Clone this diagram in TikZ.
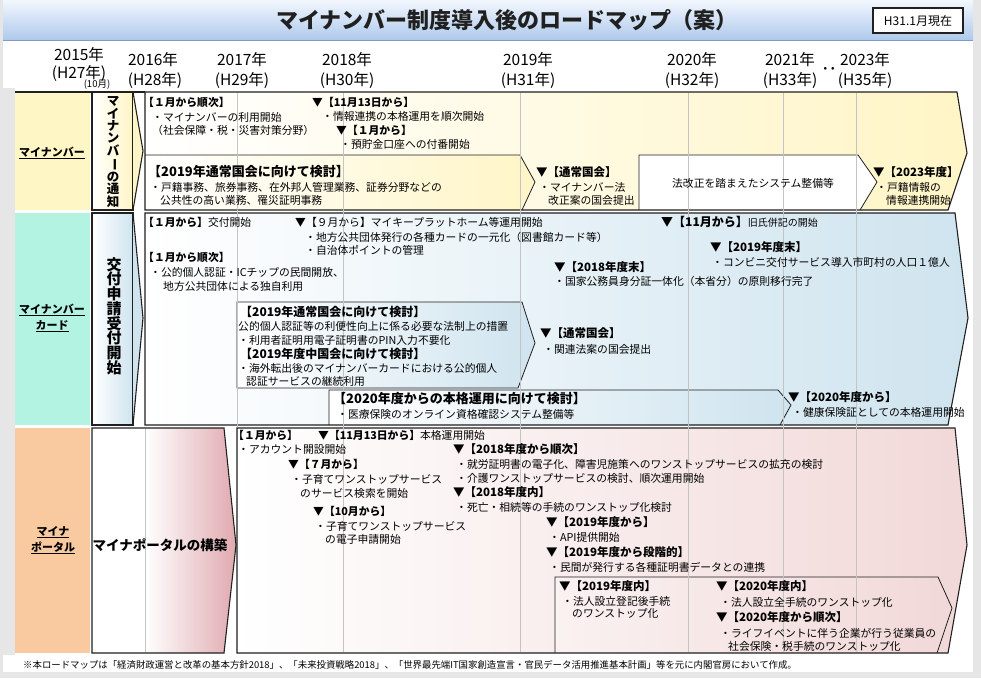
\documentclass[tikz,border=0pt]{standalone}
\usepackage{fontspec}
\setmainfont{Noto Sans CJK JP}
\definecolor{bggray}{HTML}{E6E6E6}
\definecolor{tbA}{HTML}{F2F7FD}
\definecolor{tbB}{HTML}{AFC9EC}
\definecolor{tbL}{HTML}{7F9CC4}
\definecolor{lyel}{HTML}{FEF6C4}
\definecolor{lmint}{HTML}{B3F3E1}
\definecolor{lpeach}{HTML}{F9CA9F}
\definecolor{ayel}{HTML}{FFF5C6}
\definecolor{ablue}{HTML}{CFE4EF}
\definecolor{apink}{HTML}{F2D8D8}
\definecolor{cpink}{HTML}{E0AAB0}
\definecolor{gridc}{HTML}{C4C4C4}
\definecolor{ink}{HTML}{202020}
\tikzset{
  edge/.style={draw=ink, line width=1.1pt, line join=miter},
  thinedge/.style={draw=ink, line width=0.8pt},
  gridline/.style={draw=gridc, line width=0.6pt},
  tx/.style={anchor=west, inner sep=0pt, text height=9.5pt, text depth=1.3pt, font=\fontsize{10.8}{13}\selectfont},
  hs/.style={tx, font=\bfseries\fontsize{10.8}{13}\selectfont},
  hm/.style={anchor=west, inner sep=0pt, text height=10.1pt, text depth=1.4pt, font=\bfseries\fontsize{11.5}{14}\selectfont},
  hmb/.style={anchor=west, inner sep=0pt, text height=10.6pt, text depth=1.4pt, font=\bfseries\fontsize{12}{14}\selectfont},
  hl/.style={anchor=west, inner sep=0pt, text height=11.4pt, text depth=1.6pt, font=\bfseries\fontsize{13}{15}\selectfont},
  yr/.style={anchor=center, inner sep=0pt, font=\fontsize{15.5}{17}\selectfont},
  lab/.style={anchor=center, inner sep=0pt, align=center, font=\bfseries\fontsize{11}{16}\selectfont},
  fn/.style={anchor=west, inner sep=0pt, font=\fontsize{9.4}{11}\selectfont},
}
\begin{document}
\begin{tikzpicture}[x=1pt,y=-1pt]
\useasboundingbox (0,0) rectangle (981,678);
% background
\fill[bggray] (0,0) rectangle (981,678);
\shade[top color=tbA, bottom color=tbB] (3,0) rectangle (973,40);
\draw[tbL, line width=1pt] (3,40) -- (973,40);
\fill[white] (3,41) rectangle (973,672);
\fill[bggray] (3,88) rectangle (15,655);
% left labels
\fill[lyel] (15,92) rectangle (90,210);
\fill[lmint] (15,213) rectangle (90,425);
\fill[lpeach] (15,428) rectangle (90,653);
\draw[edge] (15,92) -- (145,92);
% ===== row 1 =====
\shade[left color=white, right color=ayel] (92,92) rectangle (133,210);
\draw[edge] (92,92) rectangle (133,210);
\fill[ayel] (133,92) -- (143,151) -- (133,210) -- cycle;
\draw[edge] (133,92) -- (143,151) -- (133,210);
\shade[left color=white, right color=ayel] (145,92) -- (957,92) -- (967,153) -- (948,210) -- (145,210) -- cycle;
\shade[left color=white, right color=ayel] (145,155) -- (520,155) -- (535,182) -- (522,210) -- (145,210) -- cycle;
\draw[thinedge] (145,155) -- (520,155) -- (535,182) -- (522,210);
\fill[white] (639,155) -- (858,155) -- (877,182) -- (860,210) -- (639,210) -- cycle;
\draw[thinedge] (639,210) -- (639,155) -- (858,155) -- (877,182) -- (860,210);
\draw[edge] (145,92) -- (957,92) -- (967,153) -- (948,210) -- (145,210) -- cycle;
% ===== row 2 =====
\shade[left color=white, right color=ablue] (92,213) rectangle (133,425);
\draw[edge] (92,213) rectangle (133,425);
\fill[ablue] (133,213) -- (143,318) -- (133,425) -- cycle;
\draw[edge] (133,213) -- (143,318) -- (133,425);
\shade[left color=white, right color=ablue] (145,213) -- (955,213) -- (968,318) -- (948,425) -- (145,425) -- cycle;
\shade[left color=white, right color=ablue] (237,302) -- (522,302) -- (535,343) -- (518,388) -- (237,388) -- cycle;
\draw[thinedge] (237,302) -- (522,302) -- (535,343) -- (518,388) -- (237,388) -- cycle;
\shade[left color=white, right color=ablue] (329,390) -- (778,390) -- (791,405) -- (780,425) -- (329,425) -- cycle;
\draw[thinedge] (329,425) -- (329,390) -- (778,390) -- (791,405) -- (780,425);
\draw[edge] (145,213) -- (955,213) -- (968,318) -- (948,425) -- (145,425) -- cycle;
% ===== row 3 =====
\fill[white] (92,428) -- (224,428) -- (236,545) -- (224,653) -- (92,653) -- cycle;
\shade[left color=white, right color=cpink] (145,428) -- (224,428) -- (236,545) -- (224,653) -- (145,653) -- cycle;
\draw[edge] (92,428) -- (224,428) -- (236,545) -- (224,653) -- (92,653) -- cycle;
\shade[left color=white, right color=apink] (237,428) -- (955,428) -- (967,545) -- (948,653) -- (237,653) -- cycle;
\shade[left color=apink!35!white, right color=apink] (555,577) -- (938,577) -- (952,608) -- (937,653) -- (555,653) -- cycle;
\draw[thinedge] (555,653) -- (555,577) -- (938,577) -- (952,608) -- (937,653);
\draw[edge] (237,428) -- (955,428) -- (967,545) -- (948,653) -- (237,653) -- cycle;
% grid lines
\foreach \gx in {343,520,688,783,856} \draw[gridline] (\gx,93) -- (\gx,652);
\draw[gridline] (237,93) -- (237,427);
\draw[gridline] (145,429) -- (145,652);
% ===== title =====
\node[anchor=center, inner sep=0pt, font=\bfseries\fontsize{22}{24}\selectfont, text=ink] (ttl) at (507,20) {マイナンバー制度導入後のロードマップ（案）};
\node[draw=ink, line width=1.3pt, fill=white, minimum width=90, minimum height=25, inner sep=0pt, font=\fontsize{12}{14}\selectfont] (now) at (918,20.5) {H31.1月現在};
% ===== years =====
\node[yr] (y15) at (79,55) {2015年};
\node[yr] (h27) at (79,73) {(H27年)};
\node[anchor=center, inner sep=0pt, font=\fontsize{9.5}{11}\selectfont] (m10) at (97,85) {(10月)};
\node[yr] (y16) at (153,60) {2016年};
\node[yr] (h28) at (155,80) {(H28年)};
\node[yr] (y17) at (242,60) {2017年};
\node[yr] (h29) at (242,80) {(H29年)};
\node[yr] (y18) at (347,60) {2018年};
\node[yr] (h30) at (347,80) {(H30年)};
\node[yr] (y19) at (528,60) {2019年};
\node[yr] (h31) at (528,80) {(H31年)};
\node[yr] (y20) at (692,60) {2020年};
\node[yr] (h32) at (692,80) {(H32年)};
\node[yr] (y21) at (790,60) {2021年};
\node[yr] (h33) at (790,80) {(H33年)};
\node[yr, font=\bfseries\fontsize{15}{17}\selectfont] (dots) at (829,71) {‥};
\node[yr] (y23) at (865,60) {2023年};
\node[yr] (h35) at (865,80) {(H35年)};
% ===== left labels =====
\node[lab] (L1) at (52,153) {\underline{マイナンバー}};
\node[lab] (L2) at (52,318) {\underline{マイナンバー}\\\underline{カード}};
\node[lab] (L3) at (53,540) {\underline{マイナ}\\\underline{ポータル}};
\node[anchor=center, inner sep=0pt, align=center, font=\bfseries\fontsize{12.5}{12.4}\selectfont] (V1) at (113,152) {マ\\イ\\ナ\\ン\\バ\\\rotatebox[origin=c]{-90}{ー}\\の\\通\\知};
\node[anchor=center, inner sep=0pt, align=center, font=\bfseries\fontsize{15}{14.7}\selectfont] (V2) at (114,316) {交\\付\\申\\請\\受\\付\\開\\始};
\node[anchor=center, inner sep=0pt, font=\bfseries\fontsize{13.5}{15}\selectfont] (V3) at (160,545) {マイナポータルの構築};
% ===== row 1 texts =====
\node[hs] (a1) at (143,102) {【１月から順次】};
\node[tx] (a2) at (152,117) {・マイナンバーの利用開始};
\node[tx] (a3) at (152,130) {（社会保障・税・災害対策分野）};
\node[hs] (a4) at (312,102) {▼【11月13日から】};
\node[tx] (a5) at (322,116) {・情報連携の本格運用を順次開始};
\node[hs] (a6) at (336,130) {▼【１月から】};
\node[tx] (a7) at (340,144) {・預貯金口座への付番開始};
\node[hl] (a8) at (148,172) {【2019年通常国会に向けて検討】};
\node[tx] (a9) at (150,187) {・戸籍事務、旅券事務、在外邦人管理業務、証券分野などの};
\node[tx] (a10) at (160,200) {公共性の高い業務、罹災証明事務};
\node[hm] (a11) at (536,172) {▼【通常国会】};
\node[tx] (a12) at (539,187) {・マイナンバー法};
\node[tx] (a13) at (548,200) {改正案の国会提出};
\node[tx, anchor=center] (a14) at (753,183) {法改正を踏まえたシステム整備等};
\node[hm] (a15) at (873,172) {▼【2023年度】};
\node[tx] (a16) at (876,187) {・戸籍情報の};
\node[tx] (a17) at (886,200) {情報連携開始};
% ===== row 2 texts =====
\node[hs] (b1) at (143,222) {【１月から】\mdseries 交付開始};
\node[tx] (b2) at (295,222) {▼【９月から】マイキープラットホーム等運用開始};
\node[tx] (b3) at (305,237) {・地方公共団体発行の各種カードの一元化（図書館カード等）};
\node[tx] (b4) at (305,250) {・自治体ポイントの管理};
\node[hs] (b5) at (143,257) {【１月から順次】};
\node[tx] (b6) at (150,272) {・公的個人認証・ICチップの民間開放、};
\node[tx] (b7) at (163,286) {地方公共団体による独自利用};
\node[hmb] (b8) at (661,222) {▼【11月から】{\mdseries\fontsize{10}{12}\selectfont 旧氏併記の開始}};
\node[hm] (b9) at (710,247) {▼【2019年度末】};
\node[tx] (b10) at (712,262) {・コンビニ交付サービス導入市町村の人口１億人};
\node[hm] (b11) at (554,267) {▼【2018年度末】};
\node[tx] (b12) at (554,281) {・国家公務員身分証一体化（本省分）の原則移行完了};
\node[hmb] (b13) at (240,312) {【2019年通常国会に向けて検討】};
\node[tx] (b14) at (238,326) {公的個人認証等の利便性向上に係る必要な法制上の措置};
\node[tx] (b15) at (238,340) {・利用者証明用電子証明書のPIN入力不要化};
\node[hmb] (b16) at (240,354) {【2019年度中国会に向けて検討】};
\node[tx] (b17) at (238,368) {・海外転出後のマイナンバーカードにおける公的個人};
\node[tx] (b18) at (246,381) {認証サービスの継続利用};
\node[hm] (b19) at (540,333) {▼【通常国会】};
\node[tx] (b20) at (543,349) {・関連法案の国会提出};
\node[hl] (b21) at (333,399) {【2020年度からの本格運用に向けて検討】};
\node[tx] (b22) at (337,414) {・医療保険のオンライン資格確認システム整備等};
\node[hm] (b23) at (788,397) {▼【2020年度から】};
\node[tx] (b24) at (792,412) {・健康保険証としての本格運用開始};
% ===== row 3 texts =====
\node[hs] (c1) at (233,435) {【１月から】};
\node[tx] (c2) at (238,449) {・アカウント開設開始};
\node[tx] (c3) at (318,435) {{\bfseries ▼【11月13日から】}本格運用開始};
\node[hs] (c4) at (288,464) {▼【７月から】};
\node[tx] (c5) at (291,479) {・子育てワンストップサービス};
\node[tx] (c6) at (300,493) {のサービス検索を開始};
\node[hs] (c7) at (313,511) {▼【10月から】};
\node[tx] (c8) at (315,526) {・子育てワンストップサービス};
\node[tx] (c9) at (325,539) {の電子申請開始};
\node[hm] (c10) at (453,449) {▼【2018年度から順次】};
\node[tx] (c11) at (456,464) {・就労証明書の電子化、障害児施策へのワンストップサービスの拡充の検討};
\node[tx] (c12) at (456,478) {・介護ワンストップサービスの検討、順次運用開始};
\node[hm] (c13) at (453,492) {▼【2018年度内】};
\node[tx] (c14) at (456,507) {・死亡・相続等の手続のワンストップ化検討};
\node[hm] (c15) at (546,522) {▼【2019年度から】};
\node[tx] (c16) at (549,537) {・API提供開始};
\node[hm] (c17) at (546,552) {▼【2019年度から段階的】};
\node[tx] (c18) at (549,567) {・民間が発行する各種証明書データとの連携};
\node[hm] (c19) at (559,586) {▼【2019年度内】};
\node[tx] (c20) at (562,601) {・法人設立登記後手続};
\node[tx] (c21) at (572,613) {のワンストップ化};
\node[hm] (c22) at (716,586) {▼【2020年度内】};
\node[tx] (c23) at (720,602) {・法人設立全手続のワンストップ化};
\node[hm] (c24) at (716,617) {▼【2020年度から順次】};
\node[tx] (c25) at (720,633) {・ライフイベントに伴う企業が行う従業員の};
\node[tx] (c26) at (728,646) {社会保険・税手続のワンストップ化};
% ===== footnote =====
\node[fn] (fn) at (23,665) {※本ロードマップは「経済財政運営と改革の基本方針2018」、「未来投資戦略2018」、「世界最先端IT国家創造宣言・官民データ活用推進基本計画」等を元に内閣官房において作成。};
\end{tikzpicture}
\end{document}
